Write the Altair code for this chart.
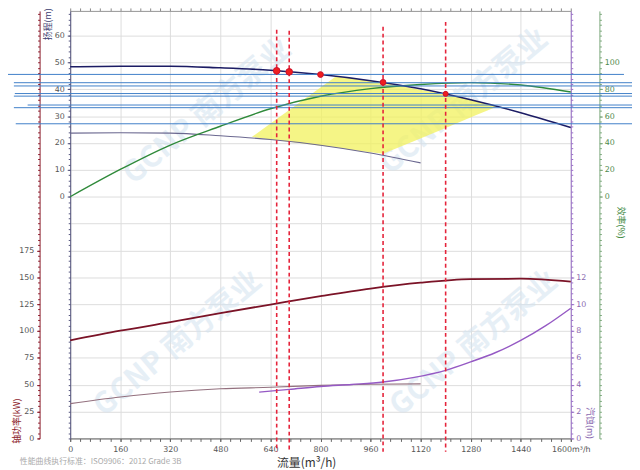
import altair as alt
import pandas as pd

# ---------------- data ----------------
q_main = [0, 160, 320, 480, 640, 800, 960, 1120, 1280, 1440, 1600]
head_m = [48.4, 48.6, 48.6, 48.0, 47.1, 45.5, 43.2, 40.2, 36.1, 31.3, 25.8]
eff_pct = [0, 20.3, 38.5, 52.5, 65.5, 74.8, 80.5, 83.6, 85.0, 83.2, 78.0]
power_kw = [91.3, 100.3, 108.2, 116.7, 124.6, 132.4, 139.5, 145.0, 148.3, 148.7, 145.9]

q_low = [0, 160, 320, 480, 640, 800, 960, 1120]
low_head_m = [23.7, 23.8, 23.7, 22.7, 21.3, 19.2, 16.3, 12.6]
low_power_kw = [32.4, 38.5, 43.2, 46.2, 47.6, 49.4, 50.5, 50.8]

q_npsh = [604, 700, 800, 900, 1000, 1100, 1200, 1280, 1360, 1440, 1520, 1600]
npsh_m = [3.45, 3.65, 3.87, 4.02, 4.2, 4.55, 5.07, 5.7, 6.4, 7.3, 8.4, 9.7]

duty_q = [660, 700, 1000, 1200]
duty_top = [62.2, 61.8, 63.3, 65.1]
duty_bottom = [-95, -95, -95, -95]

pts_q = [660, 700, 800, 1000, 1200]
pts_head = [46.9, 46.5, 45.5, 42.6, 38.3]
pts_size = [45, 45, 34, 34, 26]

blue_head = [45.55, 42.46, 41.25, 38.42, 37.46, 34.15, 33.16, 27.17]
blue_q0 = [-199, -180, -180, -177, -180, -136, -180, -174]
blue_q1 = [1770, 1800, 1800, 1800, 1800, 1800, 1800, 1800]

zone_q = [581, 660, 700, 800, 849, 900, 1000, 1100, 1200, 1300, 1363]
zone_top = [22.3, 28.9, 32.3, 40.7, 44.8, 44.1, 42.6, 40.2, 38.3, 35.7, 33.5]
zone_bot = [22.3, 21.0, 20.5, 19.0, 18.4, 17.4, 16.0, 20.8, 25.6, 30.5, 33.5]

x_ticks = [0, 160, 320, 480, 640, 800, 960, 1120, 1280, 1440, 1600]
head_ticks = [0, 10, 20, 30, 40, 50, 60]
power_ticks = [0, 25, 50, 75, 100, 125, 150, 175]
npsh_ticks = [0, 2, 4, 6, 8, 10, 12]
eff_ticks = [0, 20, 40, 60, 80, 100]
footnote = "性能曲线执行标准：ISO9906：2012 Grade 3B"
watermark = "GCNP 南方泵业"

# ---------------- layout ----------------
W, H = 507, 433
PX = 27.2                      # pixels per grid interval
n = H / PX
head_dom = [-90, -90 + n * 10]
power_dom = [0, n * 25]
npsh_dom = [0, n * 2]
eff_dom = [-180, -180 + n * 20]

FONT = "DejaVu Sans"
CJK = "Noto Sans CJK SC"


def X(axis=None, field="q"):
    return alt.X(f"{field}:Q", scale=alt.Scale(domain=[0, 1600], nice=False, zero=False), axis=axis)


def Y(field, dom, axis=None):
    return alt.Y(f"{field}:Q", scale=alt.Scale(domain=dom, nice=False, zero=False), axis=axis)


def ghost(dom, yaxis=None, xaxis=None):
    df = pd.DataFrame({"q": [0, 1600], "v": [dom[0], dom[0]]})
    return alt.Chart(df).mark_line(opacity=0).encode(x=X(xaxis), y=Y("v", dom, yaxis))


# grid + main x axis
grid_x_axis = alt.Axis(orient="bottom", values=x_ticks, grid=True, gridColor="#dcdcdc", format="d",
                       domainColor="#666", tickColor="#666", tickSize=3, labelColor="#555", labelPadding=4,
                       labelFont=FONT, labelFontSize=8, labelOverlap=False, labelFlush=False,
                       labelExpr="datum.value == 1600 ? '1600m³/h' : datum.label",
                       title="流量(m³/h)", titleFont=CJK, titleFontSize=12, titleColor="#333",
                       titleFontWeight="normal", titleX=239, titleY=24, titleBaseline="middle")
grid_y_axis = alt.Axis(orient="left", values=list(range(-90, 61, 10)), grid=True, gridColor="#dcdcdc",
                       labels=False, ticks=False, domain=False, title=None)
grid_layer = ghost(head_dom, grid_y_axis, grid_x_axis)

x_minor = ghost(head_dom, None, alt.Axis(orient="bottom", values=list(range(0, 1601, 32)), labels=False,
                                         tickSize=3, tickColor="#666", domain=False, grid=False, title=None))
x_top = ghost(head_dom, None, alt.Axis(orient="top", values=list(range(0, 1601, 32)), labels=False,
                                       tickSize=3, tickColor="#888", domainColor="#999", grid=False, title=None))

# faint watermarks
wm_df = pd.DataFrame({"t": [watermark]})
wm_pos = [(139, 102), (399, 92), (109, 337), (409, 337)]
wms = [alt.Chart(wm_df).mark_text(angle=320, font=CJK, fontSize=30, fontWeight="bold", color="#d3e3f0",
                                  opacity=0.55, align="center", baseline="middle").encode(
    x=alt.value(px), y=alt.value(py), text="t:N") for px, py in wm_pos]

# operating zone
zone_df = pd.DataFrame({"q": zone_q, "top": zone_top, "bot": zone_bot})
zone = alt.Chart(zone_df).mark_area(color="#f2f25e", opacity=0.75).encode(
    x=X(), y=Y("top", head_dom), y2="bot:Q")

# head curve + head axis
head_axis = alt.Axis(orient="left", values=head_ticks, grid=False, domainColor="#55557f", tickColor="#55557f",
                     tickSize=3, labelColor="#555", labelFont=FONT, labelFontSize=8, labelPadding=3,
                     labelOverlap=False, title="扬程(m)", titleFont=CJK, titleFontSize=9, titleColor="#3c3c70",
                     titleFontWeight="normal", titleAngle=270, titleX=-23, titleY=13,
                     titleAlign="center", titleBaseline="middle")
main_df = pd.DataFrame({"q": q_main, "head": head_m, "eff": eff_pct, "pw": power_kw})
head_line = alt.Chart(main_df).mark_line(color="#1c1c64", strokeWidth=1.6, interpolate="monotone").encode(
    x=X(), y=Y("head", head_dom, head_axis))
head_minor = ghost(head_dom, alt.Axis(orient="left", values=list(range(-90, 69, 2)), labels=False, tickSize=2,
                                      tickColor="#55557f", domain=False, grid=False, title=None))

low_df = pd.DataFrame({"q": q_low, "lh": low_head_m, "lp": low_power_kw})
low_line = alt.Chart(low_df).mark_line(color="#6b6890", strokeWidth=1.1, interpolate="monotone").encode(
    x=X(), y=Y("lh", head_dom))

# efficiency
eff_axis = alt.Axis(orient="right", offset=29, values=eff_ticks, grid=False, domainColor="#7aa87a",
                    tickColor="#7aa87a", tickSize=3, labelColor="#4e8a4e", labelFont=FONT, labelFontSize=8,
                    labelPadding=2, labelOverlap=False, title="效率(%)", titleFont=CJK, titleFontSize=9,
                    titleColor="#3f8a3f", titleFontWeight="normal", titleAngle=90, titleX=21, titleY=214,
                    titleAlign="center", titleBaseline="middle")
eff_line = alt.Chart(main_df).mark_line(color="#2f8a3a", strokeWidth=1.4, interpolate="monotone").encode(
    x=X(), y=Y("eff", eff_dom, eff_axis))
eff_minor = ghost(eff_dom, alt.Axis(orient="right", offset=29, values=list(range(-180, 138, 4)), labels=False,
                                    tickSize=2, tickColor="#7aa87a", domain=False, grid=False, title=None))

# power
power_axis = alt.Axis(orient="left", offset=31, values=power_ticks, grid=False, domainColor="#8b1a2a",
                      tickColor="#8b1a2a", tickSize=3, labelColor="#555", labelFont=FONT, labelFontSize=8,
                      labelPadding=3, labelOverlap=False, title="轴功率(kW)", titleFont=CJK, titleFontSize=9,
                      titleColor="#8b1a2a", titleFontWeight="normal", titleAngle=270, titleX=-23, titleY=415,
                      titleAlign="center", titleBaseline="middle")
power_line = alt.Chart(main_df).mark_line(color="#7b1327", strokeWidth=1.8, interpolate="monotone").encode(
    x=X(), y=Y("pw", power_dom, power_axis))
power_minor = ghost(power_dom, alt.Axis(orient="left", offset=31, values=list(range(0, 398, 5)), labels=False,
                                        tickSize=2, tickColor="#8b1a2a", domain=False, grid=False, title=None))
low_power_line = alt.Chart(low_df).mark_line(color="#93707e", strokeWidth=1.1, interpolate="monotone").encode(
    x=X(), y=Y("lp", power_dom))

# NPSH
npsh_axis = alt.Axis(orient="right", offset=0, values=npsh_ticks, grid=False, domainColor="#9a70c8",
                     tickColor="#9a70c8", tickSize=3, labelColor="#8a6ab0", labelFont=FONT, labelFontSize=8,
                     labelPadding=2, labelOverlap=False, title="汽蚀(m)", titleFont=CJK, titleFontSize=9,
                     titleColor="#8a6ab0", titleFontWeight="normal", titleAngle=90, titleX=19, titleY=417,
                     titleAlign="center", titleBaseline="middle")
npsh_df = pd.DataFrame({"q": q_npsh, "npsh": npsh_m})
npsh_line = alt.Chart(npsh_df).mark_line(color="#9559c4", strokeWidth=1.4, interpolate="monotone").encode(
    x=X(), y=Y("npsh", npsh_dom, npsh_axis))
npsh_minor = ghost(npsh_dom, alt.Axis(orient="right", offset=0, values=[i * 0.4 for i in range(0, 80)],
                                      labels=False, tickSize=2, tickColor="#9a70c8", domain=False, grid=False,
                                      title=None))

# blue reference lines
blue_df = pd.DataFrame({"q0": blue_q0, "q1": blue_q1, "h": blue_head})
blue = alt.Chart(blue_df).mark_rule(color="#3f7fc8", strokeWidth=1).encode(
    x=X(field="q0"), x2="q1:Q", y=Y("h", head_dom))

# duty dashed lines
duty_df = pd.DataFrame({"q": duty_q, "top": duty_top, "bot": duty_bottom})
duty = alt.Chart(duty_df).mark_rule(color="#e5243b", strokeWidth=1.6, strokeDash=[4, 3]).encode(
    x=X(), y=Y("top", head_dom), y2="bot:Q")

# duty points
pts_df = pd.DataFrame({"q": pts_q, "h": pts_head, "s": pts_size})
pts = alt.Chart(pts_df).mark_circle(color="#f01e1e", opacity=1, stroke="#c8102e", strokeWidth=1).encode(
    x=X(), y=Y("h", head_dom), size=alt.Size("s:Q", scale=None, legend=None))

# footnote
foot_df = pd.DataFrame({"t": [footnote]})
foot = alt.Chart(foot_df).mark_text(align="left", baseline="middle", font=CJK, fontSize=8,
                                    color="#aaaaaa").encode(
    x=alt.value(-51), y=alt.value(457), text="t:N")

chart = alt.layer(
    grid_layer, x_minor, x_top, *wms, zone, head_minor, eff_minor, power_minor, npsh_minor,
    low_line, low_power_line, eff_line, power_line, npsh_line, head_line,
    blue, duty, pts, foot
).resolve_scale(x="independent", y="independent", size="independent").properties(
    width=W, height=H,
    autosize=alt.AutoSizeParams(type="none"),
    padding={"left": 63, "top": 0, "right": 62, "bottom": 28},
).configure_view(stroke=None).configure(background="white")

chart.save("out.html", embed_options={"renderer": "svg", "actions": False})
